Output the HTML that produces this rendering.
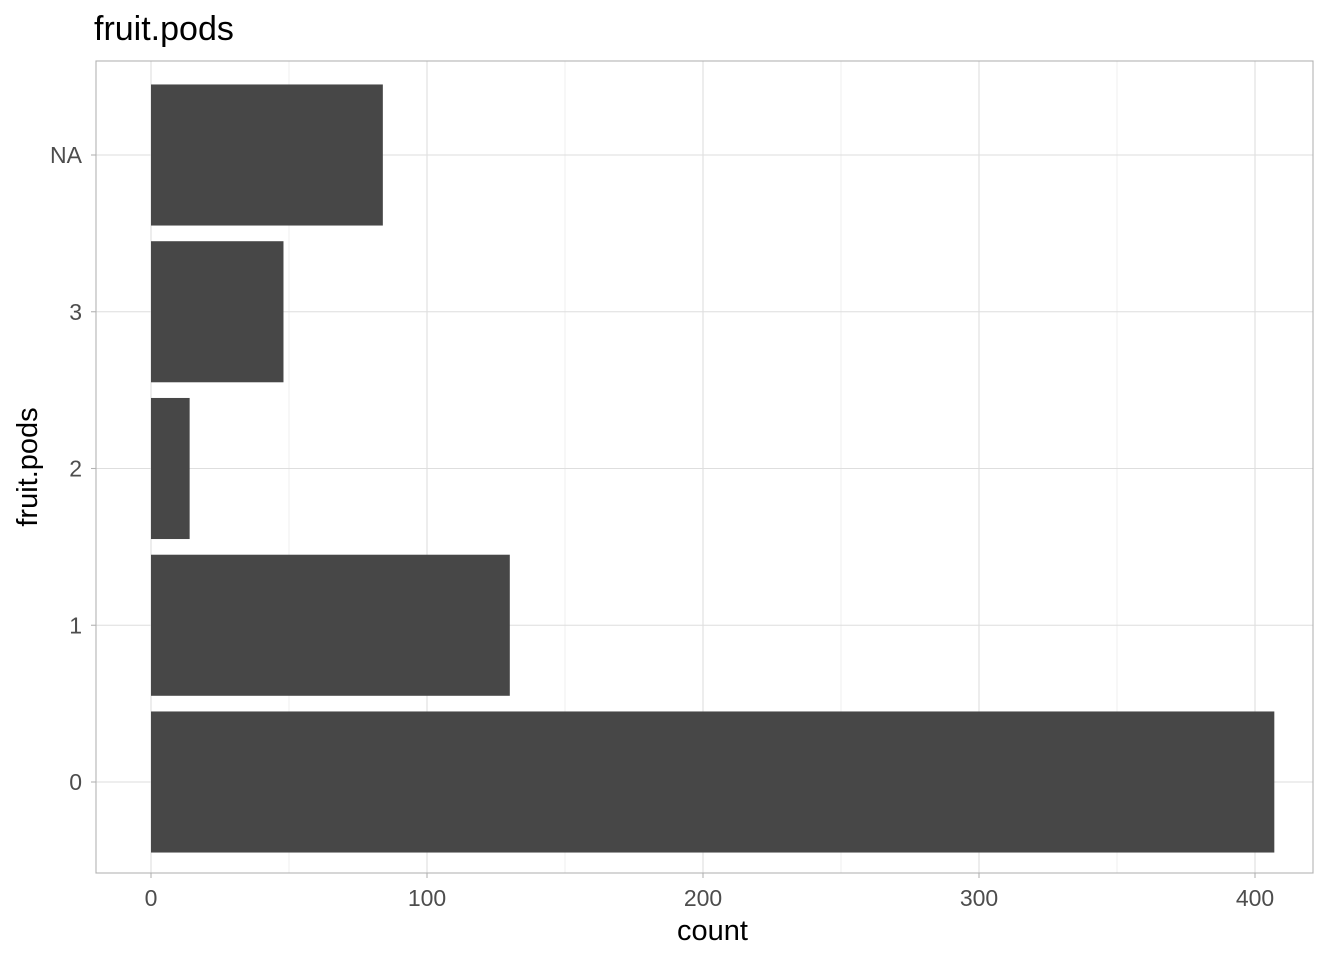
<!DOCTYPE html>
<html><head><meta charset="utf-8"><style>
html,body{margin:0;padding:0;background:#fff;}
svg{display:block;font-family:"Liberation Sans",Arial,sans-serif;}
</style></head><body>
<svg id="chart" width="1344" height="960"></svg>
<script>
const categories = ["0","1","2","3","NA"];
const counts = [407, 130, 14, 48, 84];
const xTicks = [0, 100, 200, 300, 400];
const xMinor = [50, 150, 250, 350];

const svg = document.getElementById('chart');
const NS = 'http://www.w3.org/2000/svg';
const P = {l:96, r:1313, t:61, b:873};
const x0 = 151, pxPer = 2.76;
const xs = v => x0 + v * pxPer;
const yStep = 156.75, yBase = 782;
const ys = i => yBase - i * yStep;
const bh = 0.9 * yStep;

function mk(tag, attrs){ const e = document.createElementNS(NS, tag); for (const k in attrs) e.setAttribute(k, attrs[k]); svg.appendChild(e); return e; }

const bg = mk('rect', {x:P.l, y:P.t, width:P.r-P.l, height:P.b-P.t, fill:'#fff'});



xMinor.forEach(v => {
  const l = mk('line', {x1:xs(v), x2:xs(v), y1:P.t, y2:P.b, stroke:'#ebebeb', 'stroke-width':0.8});
  
  
});
xTicks.forEach(v => {
  const l = mk('line', {x1:xs(v), x2:xs(v), y1:P.t, y2:P.b, stroke:'#dedede', 'stroke-width':1.1});
  
  
});
categories.forEach((c, i) => {
  const l = mk('line', {x1:P.l, x2:P.r, y1:ys(i), y2:ys(i), stroke:'#dedede', 'stroke-width':1.1});
  
  
});

categories.forEach((c, i) => {
  const r = mk('rect', {x:xs(0), y:ys(i)-bh/2, width:xs(counts[i])-xs(0), height:bh, fill:'#474747'});
  
  
});

const border = mk('rect', {x:P.l, y:P.t, width:P.r-P.l, height:P.b-P.t, fill:'none', stroke:'#b3b3b3', 'stroke-width':1.1});



xTicks.forEach(v => {
  const t = mk('line', {x1:xs(v), x2:xs(v), y1:P.b, y2:P.b+5, stroke:'#b3b3b3', 'stroke-width':1.1});
  
  
  const tx = mk('text', {x:xs(v), y:P.b+33, 'text-anchor':'middle', 'font-size':23, fill:'#4d4d4d'});
  tx.textContent = v;
  
  
});
categories.forEach((c, i) => {
  const t = mk('line', {x1:P.l-5, x2:P.l, y1:ys(i), y2:ys(i), stroke:'#b3b3b3', 'stroke-width':1.1});
  
  
  const tx = mk('text', {x:P.l-14, y:ys(i)+8, 'text-anchor':'end', 'font-size':23, fill:'#4d4d4d'});
  tx.textContent = c;
  
  
});

const xt = mk('text', {x:(P.l+P.r)/2+8, y:940, 'text-anchor':'middle', 'font-size':29, fill:'#000'});
xt.textContent = 'count';



const yt = mk('text', {x:0, y:0, 'text-anchor':'middle', 'font-size':29, fill:'#000', transform:'translate(37,' + ((P.t+P.b)/2) + ') rotate(-90)'});
yt.textContent = 'fruit.pods';



const title = mk('text', {x:94, y:40, 'font-size':34, fill:'#000'});
title.textContent = 'fruit.pods';


</script>
</body></html>
